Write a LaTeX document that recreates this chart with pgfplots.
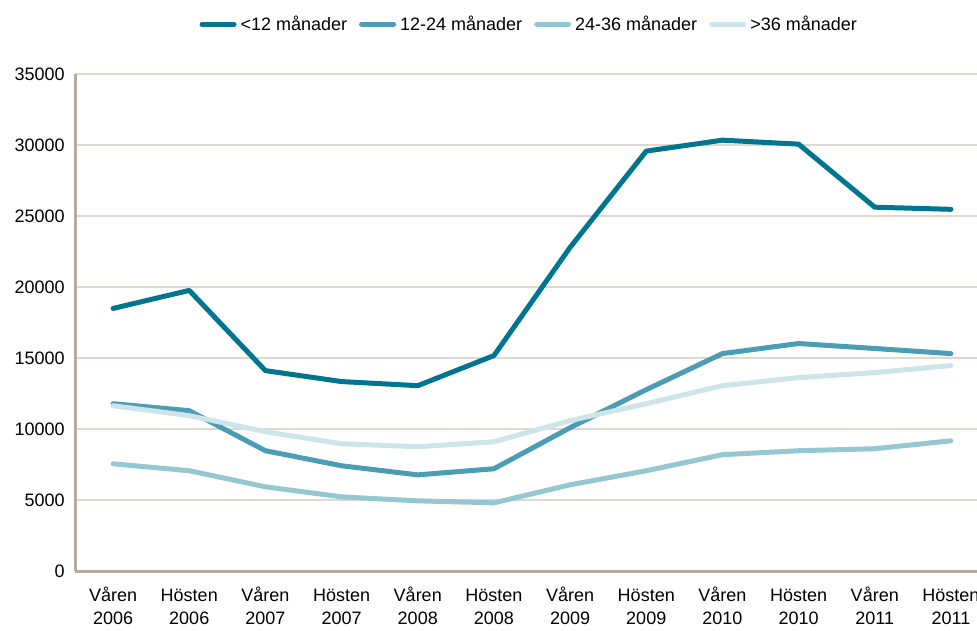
\documentclass[border=0pt]{standalone}
\usepackage{pgfplots}
\pgfplotsset{compat=1.18}
\usepackage{fontspec}
\setmainfont{Liberation Sans}
\definecolor{cA}{HTML}{00758F}
\definecolor{cB}{HTML}{4A9DB4}
\definecolor{cC}{HTML}{95C7D3}
\definecolor{cD}{HTML}{CDE4EA}
\definecolor{axc}{HTML}{B5AB9E}
\definecolor{grc}{HTML}{DDD9D1}
\newcommand{\st}{\rule{0pt}{7pt}}
\begin{document}
\fontsize{9pt}{11pt}\selectfont
\begin{tikzpicture}
\begin{axis}[
  scale only axis,
  width=457pt, height=248.5pt,
  xmin=-0.5, xmax=11.5, ymin=0, ymax=35000,
  axis x line=bottom, axis y line=left,
  axis line style={draw=axc, line width=1.5pt, -},
  xtick={0,...,11},
  xticklabels={{\st Våren\\2006},{\st Hösten\\2006},{\st Våren\\2007},{\st Hösten\\2007},{\st Våren\\2008},{\st Hösten\\2008},{\st Våren\\2009},{\st Hösten\\2009},{\st Våren\\2010},{\st Hösten\\2010},{\st Våren\\2011},{\st Hösten\\2011}},
  xticklabel style={align=center, font=\fontsize{9pt}{11.5pt}\selectfont, yshift=-5pt},
  ytick={0,5000,...,35000},
  scaled y ticks=false,
  yticklabel style={font=\fontsize{9pt}{11pt}\selectfont, xshift=-2pt},
  /pgf/number format/.cd, set thousands separator={}, assume math mode=true, /pgfplots/.cd,
  major tick length=0pt,
  ymajorgrids,
  grid style={draw=grc, line width=0.75pt},
  clip=false,
  legend columns=4,
  legend style={draw=none, fill=none, at={(0.498,1.1)}, anchor=center, font=\fontsize{9pt}{11pt}\selectfont,
    /tikz/every even column/.append style={column sep=4pt}},
  legend image code/.code={\draw[#1, line cap=round] (0pt,0pt) -- (16pt,0pt);},
  every axis plot/.append style={line width=2.5pt, line join=round, line cap=round},
]
\addplot[cA] coordinates {(0,18490) (1,19760) (2,14110) (3,13340) (4,13050) (5,15170) (6,22790) (7,29570) (8,30340) (9,30060) (10,25620) (11,25470)};
\addlegendentry{<12 månader}
\addplot[cB] coordinates {(0,11780) (1,11290) (2,8470) (3,7410) (4,6770) (5,7200) (6,10090) (7,12770) (8,15310) (9,16020) (10,15670) (11,15310)};
\addlegendentry{12-24 månader}
\addplot[cC] coordinates {(0,7550) (1,7060) (2,5930) (3,5220) (4,4940) (5,4800) (6,6070) (7,7060) (8,8190) (9,8470) (10,8610) (11,9170)};
\addlegendentry{24-36 månader}
\addplot[cD] coordinates {(0,11640) (1,10940) (2,9810) (3,8960) (4,8750) (5,9100) (6,10590) (7,11780) (8,13050) (9,13620) (10,13970) (11,14470)};
\addlegendentry{>36 månader}
\end{axis}
\pgfresetboundingbox
\path (-37.5pt,-29.5pt) rectangle (451pt,285.5pt);
\end{tikzpicture}
\end{document}
